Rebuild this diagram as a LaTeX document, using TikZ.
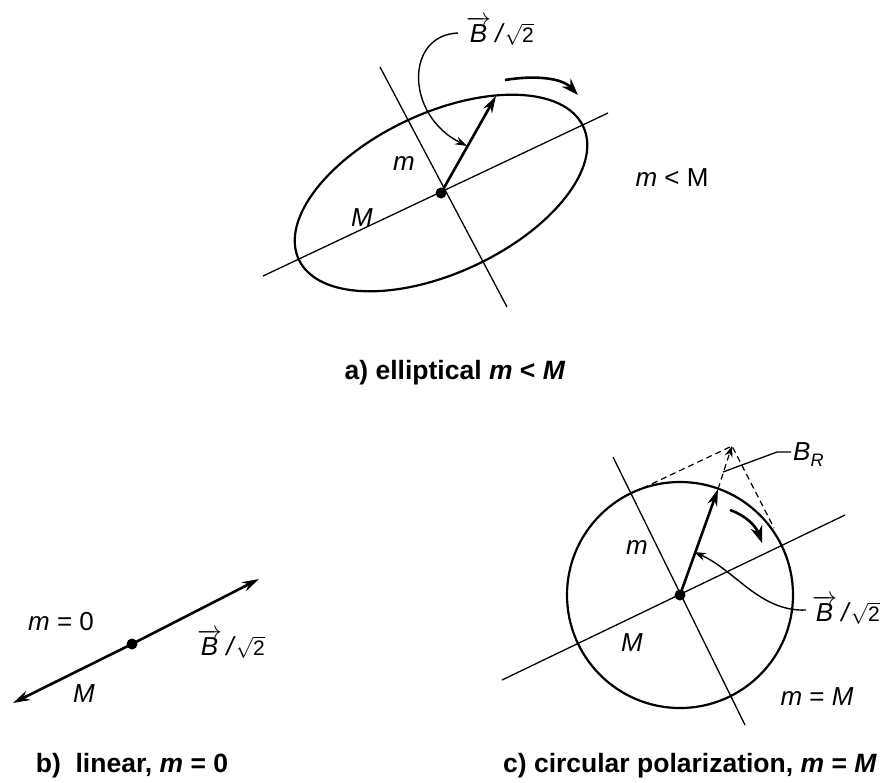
\documentclass[tikz,border=0pt]{standalone}
\usepackage{fontspec}
\setmainfont{Liberation Sans}
\usetikzlibrary{arrows.meta}
\newcommand{\Bv}{\ensuremath{\overrightarrow{\mbox{\itshape B}}}}
\newcommand{\Bsq}{\Bv\,\textit{/}{\fontsize{21}{21}\selectfont\ensuremath{\sqrt{\mbox{2}}}}}
\begin{document}
\begin{tikzpicture}[x=1pt,y=-1pt,
  lbl/.style={font=\fontsize{26}{30}\selectfont, inner sep=0pt},
  captxt/.style={font=\fontsize{26.5}{30}\selectfont\bfseries, inner sep=0pt},
  axis/.style={line width=1.3pt},
  curve/.style={line width=2.2pt},
  vecarrow/.style={line width=2.6pt, -{Stealth[length=17pt,width=10pt]}},
  thinarrow/.style={line width=1.4pt, -{Stealth[length=12pt,width=8pt]}},
  rotarrow/.style={line width=2.6pt, -{Stealth[length=17pt,width=12pt]}},
  dashline/.style={line width=1.2pt, dash pattern=on 6pt off 4pt},
  dot/.style={circle, fill, inner sep=0pt, minimum size=11pt}]
\useasboundingbox (0,0) rectangle (885,782);

% ---------- a) elliptical ----------
\node[dot] (ca) at (441,193) {};
\coordinate (aM1) at (263,276);
\coordinate (aM2) at (608,113);
\coordinate (am1) at (380,67);
\coordinate (am2) at (507,307);
\draw[axis] (aM1) -- (aM2);
\draw[axis] (am1) -- (am2);
\draw[curve, rotate around={25:(ca)}] (ca) ellipse [x radius=157, y radius=80];
\coordinate (aB) at (496,96);
\draw[vecarrow] (ca.center) -- (aB);
\node[lbl] (aBl) at (500,31) {\Bsq};
\coordinate (aBt) at (467,146);
\draw[thinarrow] (aBl.west) ++(-8,2) coordinate (aBs) .. controls (405,35) and (405,115) .. (aBt);
\coordinate (ar1) at (505,80);
\coordinate (ar2) at (578,95);
\draw[rotarrow] (ar1) .. controls (535,75) and (562,78) .. (ar2);
\node[lbl] (am) at (404,164) {\textit{m}};
\node[lbl] (aMl) at (362,218) {\textit{M}};
\node[lbl] (amM) at (672,178) {\textit{m} < M};
\node[captxt] (capa) at (455,373) {a) elliptical \textit{m} < \textit{M}};

% ---------- b) linear ----------
\node[dot] (cb) at (132,644) {};
\coordinate (bU) at (259,579);
\coordinate (bL) at (13,703);
\draw[vecarrow] (cb.center) -- (bU);
\draw[vecarrow] (cb.center) -- (bL);
\node[lbl] (bm0) at (61,622) {\textit{m} = 0};
\node[lbl] (bB) at (231,644) {\Bsq};
\node[lbl] (bM) at (84,694) {\textit{M}};
\node[captxt] (capb) at (132,766) {b)\ \ linear, \textit{m} = 0};

% ---------- c) circular ----------
\node[dot] (cc) at (680,595) {};
\coordinate (cM1) at (502,680);
\coordinate (cM2) at (845,515);
\coordinate (cm1) at (613,457);
\coordinate (cm2) at (745,725);
\draw[axis] (cM1) -- (cM2);
\draw[axis] (cm1) -- (cm2);
\draw[curve] (cc) circle [radius=113];
\coordinate (cB) at (718,489);
\coordinate (cT) at (732,446);
\coordinate (cP1) at (643,488);
\coordinate (cP2) at (774,528);
\draw[vecarrow] (cc.center) -- (cB);
\draw[dashline] (cP1) -- (cT) -- (cP2);
\draw[dashline, -{Stealth[length=11pt,width=8pt]}] (cB) -- (cT);
\coordinate (cBR1) at (723,472);
\coordinate (cBR2) at (777,452);
\coordinate (cBR3) at (791,452);
\draw[line width=1.3pt] (cBR1) -- (cBR2) -- (cBR3);
\node[lbl, anchor=west] (cBR) at (793,455) {\textit{B}\raisebox{-6pt}{\fontsize{18}{18}\selectfont\textit{R}}};
\coordinate (cr1) at (730,510);
\coordinate (cr2) at (762,543);
\draw[rotarrow] (cr1) .. controls (745,515) and (756,526) .. (cr2);
\node[lbl] (cBl) at (846,610) {\Bsq};
\coordinate (cBt) at (694,552);
\draw[thinarrow] (cBl.west) ++(-6,0) coordinate (cBs) .. controls (760,612) and (735,570) .. (cBt);
\node[lbl] (cm) at (637,547) {\textit{m}};
\node[lbl] (cMl) at (632,643) {\textit{M}};
\node[lbl] (cmM) at (817,697) {\textit{m} = \textit{M}};
\node[captxt] (capc) at (690,766) {c) circular polarization, \textit{m} = \textit{M}};
\end{tikzpicture}
\end{document}
